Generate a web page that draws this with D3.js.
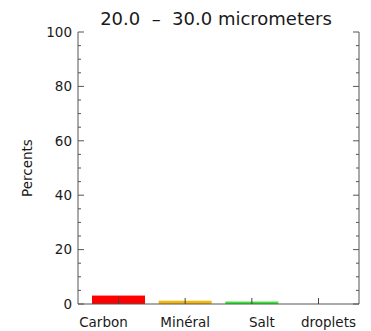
<!DOCTYPE html>
<html>
<head>
<meta charset="utf-8">
<script src="https://cdn.jsdelivr.net/npm/d3@7"></script>
<style>
  body { margin: 0; background: #fff; }
  svg { display: block; }
  text { font-family: "DejaVu Sans", sans-serif; fill: #1a1a1a; }
</style>
</head>
<body>
<svg id="chart" width="371" height="331"></svg>
<script>
// Particle composition for the 20–30 µm size bin
const categories = ["Carbon", "Minéral", "Salt", "droplets"];
const percents = [3.1, 1.2, 0.9, 0];
const barColors = ["#ff0000", "#f4b80a", "#33e633", "#888888"];
const yTicks = [0, 20, 40, 60, 80, 100];
const titleText = "20.0  \u2013  30.0 micrometers";
const yLabel = "Percents";

// Horizontal nudges for category labels (label layout of the original plot)
const labelShift = [-15, 0, 10, 10];

const svg = d3.select("#chart");
const margin = { left: 78, right: 12, top: 32, bottom: 27 };
const W = 371, H = 331;
const x0 = margin.left, x1 = W - margin.right;
const y0 = H - margin.bottom, y1 = margin.top;

const x = d3.scaleBand()
  .domain(categories)
  .range([x0, x1])
  .paddingInner(0.205)
  .paddingOuter(0.21);

const y = d3.scaleLinear().domain([0, 100]).range([y0, y1]);

const axisColor = "#555";

// Bars
svg.append("g")
  .selectAll("rect")
  .data(categories)
  .join("rect")
  .attr("x", d => x(d))
  .attr("width", x.bandwidth())
  .attr("y", (d, i) => y(percents[i]))
  .attr("height", (d, i) => y(0) - y(percents[i]))
  .attr("fill", (d, i) => barColors[i]);

// Left axis with major and minor ticks pointing inward
const minor = d3.range(0, 101, 5);
const leftAxis = svg.append("g").attr("transform", `translate(${x0},0)`);
leftAxis.append("line")
  .attr("y1", y(0)).attr("y2", y(100))
  .attr("stroke", axisColor).attr("stroke-width", 1);
leftAxis.selectAll("line.tick")
  .data(minor)
  .join("line")
  .attr("class", "tick")
  .attr("x1", 0)
  .attr("x2", d => (d % 20 === 0 ? 6 : 3))
  .attr("y1", d => y(d)).attr("y2", d => y(d))
  .attr("stroke", axisColor);
leftAxis.selectAll("text")
  .data(yTicks)
  .join("text")
  .attr("x", -6)
  .attr("y", d => y(d))
  .attr("dy", "0.36em")
  .attr("text-anchor", "end")
  .attr("font-size", 13.5)
  .text(d => d);

// Right axis mirrors the ticks
const rightAxis = svg.append("g").attr("transform", `translate(${x1},0)`);
rightAxis.append("line")
  .attr("y1", y(0)).attr("y2", y(100))
  .attr("stroke", axisColor).attr("stroke-width", 1);
rightAxis.selectAll("line.tick")
  .data(minor)
  .join("line")
  .attr("class", "tick")
  .attr("x1", 0)
  .attr("x2", d => (d % 20 === 0 ? -6 : -3))
  .attr("y1", d => y(d)).attr("y2", d => y(d))
  .attr("stroke", axisColor);

// Bottom axis: baseline and category ticks
const bottom = svg.append("g");
bottom.append("line")
  .attr("x1", x0).attr("x2", x1)
  .attr("y1", y(0)).attr("y2", y(0))
  .attr("stroke", axisColor);
bottom.selectAll("line.tick")
  .data(categories)
  .join("line")
  .attr("class", "tick")
  .attr("x1", d => x(d) + x.bandwidth() / 2)
  .attr("x2", d => x(d) + x.bandwidth() / 2)
  .attr("y1", y(0)).attr("y2", y(0) - 6)
  .attr("stroke", "#444");
bottom.selectAll("text")
  .data(categories)
  .join("text")
  .attr("x", (d, i) => x(d) + x.bandwidth() / 2 + labelShift[i])
  .attr("y", y(0) + 23)
  .attr("text-anchor", "middle")
  .attr("font-size", 13.5)
  .text(d => d);

// Title
svg.append("text")
  .attr("x", 216)
  .attr("y", 25)
  .attr("text-anchor", "middle")
  .attr("font-size", 18)
  .attr("xml:space", "preserve")
  .style("white-space", "pre")
  .text(titleText);

// Y axis title
svg.append("text")
  .attr("transform", `translate(32,${(y0 + y1) / 2}) rotate(-90)`)
  .attr("text-anchor", "middle")
  .attr("font-size", 13.5)
  .text(yLabel);
</script>
</body>
</html>
